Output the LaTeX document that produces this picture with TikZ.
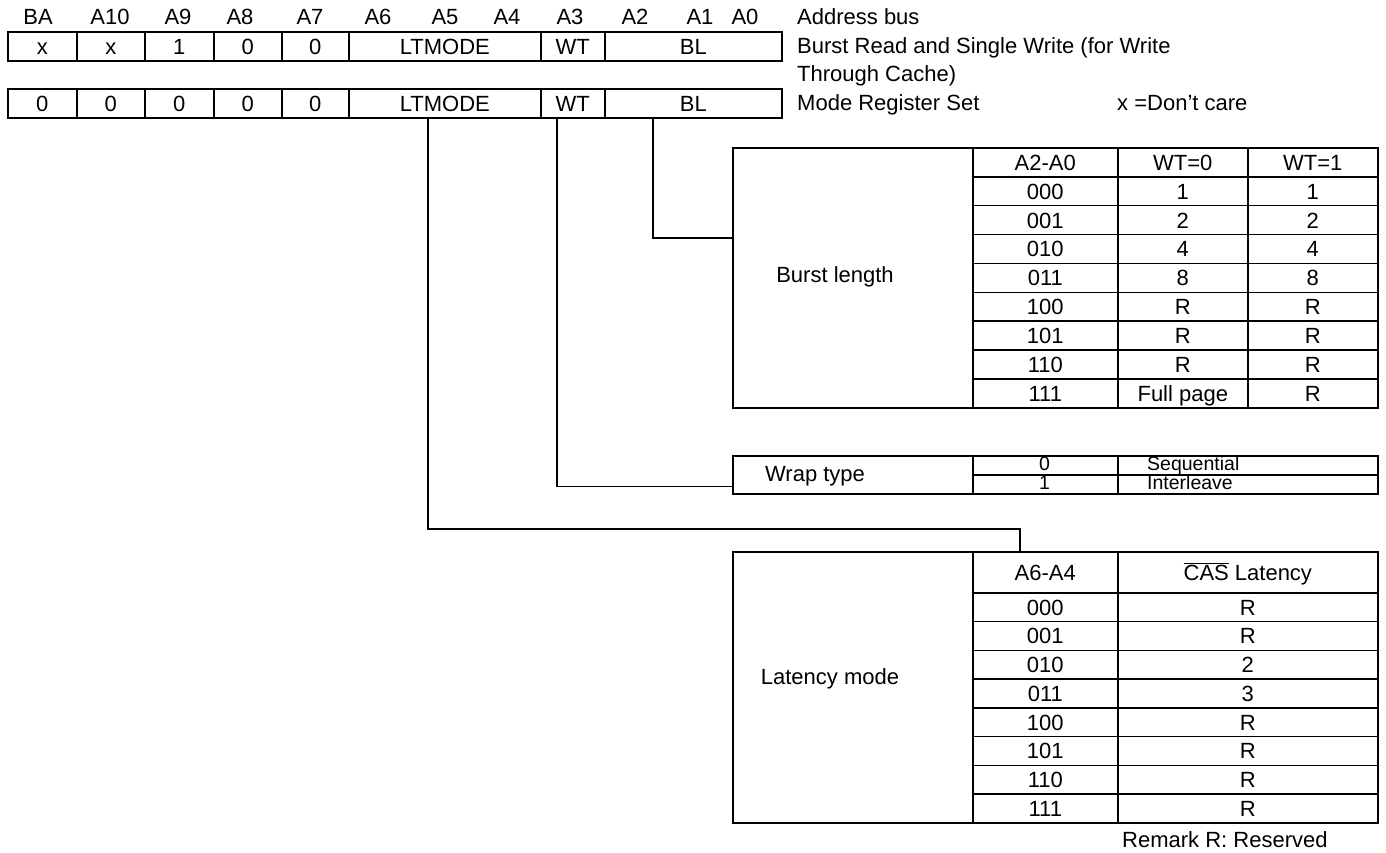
\documentclass[tikz,border=0pt]{standalone}
\usepackage{fontspec}
\setmainfont{Liberation Sans}
\usetikzlibrary{calc}
\newcommand\tcell[6]{\node[cell,minimum width=#4pt,minimum height=#5pt] (#1) at (#2,#3) {#6};}
\begin{document}
\begin{tikzpicture}[x=1pt,y=-1pt,
  cell/.style={draw, line width=1.6pt, inner sep=0pt, anchor=north west,
    text height=15.8pt, text depth=0pt, font=\fontsize{22}{26}\selectfont},
  lbl/.style={inner sep=0pt, text height=15.8pt, text depth=0pt, font=\fontsize{22}{26}\selectfont},
  small/.style={text height=14pt, font=\fontsize{19.5}{22}\selectfont},
  conn/.style={line width=1.4pt}]
\useasboundingbox (0,0) rectangle (1386,853);

% address labels
\foreach \n/\x/\t in {ba/38/BA, a10/110/A10, a9/178/A9, a8/240/A8, a7/310/A7, a6/378/A6,
  a5/445/A5, a4/507/A4, a3/570/A3, a2/635/A2, a1/700/A1, a0/745/A0}
  \node[lbl] (lab\n) at (\x,17) {\t};

% row 1
\tcell{r1a}{7}{31}{69}{29}{x}
\tcell{r1b}{76}{31}{68}{29}{x}
\tcell{r1c}{144}{31}{69}{29}{1}
\tcell{r1d}{213}{31}{68}{29}{0}
\tcell{r1e}{281}{31}{67}{29}{0}
\tcell{ltm1}{348}{31}{192}{29}{LTMODE}
\tcell{wt1}{540}{31}{64}{29}{WT}
\tcell{bl1}{604}{31}{177}{29}{BL}
% row 2
\tcell{r2a}{7}{88}{69}{29}{0}
\tcell{r2b}{76}{88}{68}{29}{0}
\tcell{r2c}{144}{88}{69}{29}{0}
\tcell{r2d}{213}{88}{68}{29}{0}
\tcell{r2e}{281}{88}{67}{29}{0}
\tcell{ltm2}{348}{88}{192}{29}{LTMODE}
\tcell{wt2}{540}{88}{64}{29}{WT}
\tcell{bl2}{604}{88}{177}{29}{BL}

% right side texts
\node[lbl,anchor=west] (addr) at (797,17) {Address bus};
\node[lbl,anchor=west] (brsw) at (797,45.5) {Burst Read and Single Write (for Write};
\node[lbl,anchor=west] (thru) at (797,74) {Through Cache)};
\node[lbl,anchor=west] (mrs) at (797,102.5) {Mode Register Set};
\node[lbl,anchor=west] (dc) at (1117,102.5) {x =Don’t care};

% burst length table
\tcell{blab}{732}{147}{240}{260}{}
\node[lbl] (bltxt) at (835,275) {Burst length};
\tcell{bhA}{972}{147}{145}{29}{A2-A0}
\tcell{bhB}{1117}{147}{130}{29}{WT=0}
\tcell{bhC}{1247}{147}{130}{29}{WT=1}
\foreach \i/\a/\b/\c in {0/000/1/1, 1/001/2/2, 2/010/4/4, 3/011/8/8,
  4/100/R/R, 5/101/R/R, 6/110/R/R, 7/111/Full page/R}{
  \pgfmathsetmacro\yy{176+\i*28.875}
  \tcell{bA\i}{972}{\yy}{145}{28.875}{\a}
  \tcell{bB\i}{1117}{\yy}{130}{28.875}{\b}
  \tcell{bC\i}{1247}{\yy}{130}{28.875}{\c}
}

% wrap type table
\tcell{wlab}{732}{455}{240}{38}{}
\node[lbl] (wtxt) at (815,474) {Wrap type};
\tcell{wA0}{972}{455}{145}{19}{}
\tcell{wB0}{1117}{455}{260}{19}{}
\tcell{wA1}{972}{474}{145}{19}{}
\tcell{wB1}{1117}{474}{260}{19}{}
\node[lbl,small] (w0) at (1044.5,463.5) {0};
\node[lbl,small] (w1) at (1044.5,482.5) {1};
\node[lbl,small,anchor=west] (seq) at (1147,463.5) {Sequential};
\node[lbl,small,anchor=west] (intl) at (1147,482.5) {Interleave};

% latency table
\tcell{llab}{732}{551}{240}{271}{}
\node[lbl] (ltxt) at (830,677) {Latency mode};
\tcell{lhA}{972}{551}{145}{41}{A6-A4}
\tcell{lhB}{1117}{551}{260}{41}{$\overline{\mbox{CAS}}$ Latency}
\foreach \i/\a/\b in {0/000/R, 1/001/R, 2/010/2, 3/011/3, 4/100/R, 5/101/R, 6/110/R, 7/111/R}{
  \pgfmathsetmacro\yy{592+\i*28.75}
  \tcell{lA\i}{972}{\yy}{145}{28.75}{\a}
  \tcell{lB\i}{1117}{\yy}{260}{28.75}{\b}
}
\node[lbl,anchor=west] (remark) at (1122,840) {Remark R: Reserved};

% connectors
\coordinate (blS) at ($(bl2.south west)+(49,0)$);
\coordinate (blE) at ($(blab.north west)+(0,91)$);
\coordinate (wtS) at ($(wt2.south west)+(17,0)$);
\coordinate (wtE) at ($(wlab.south west)+(0,-8)$);
\coordinate (ltS) at ($(ltm2.south west)+(80,0)$);
\coordinate (ltE) at ($(lhA.north west)+(48,0)$);
\draw[conn] (blS) |- (blE);
\draw[conn] (wtS) |- (wtE);
\draw[conn] (ltS) |- ($(ltE)+(0,-22)$) -- (ltE);
\end{tikzpicture}
\end{document}
